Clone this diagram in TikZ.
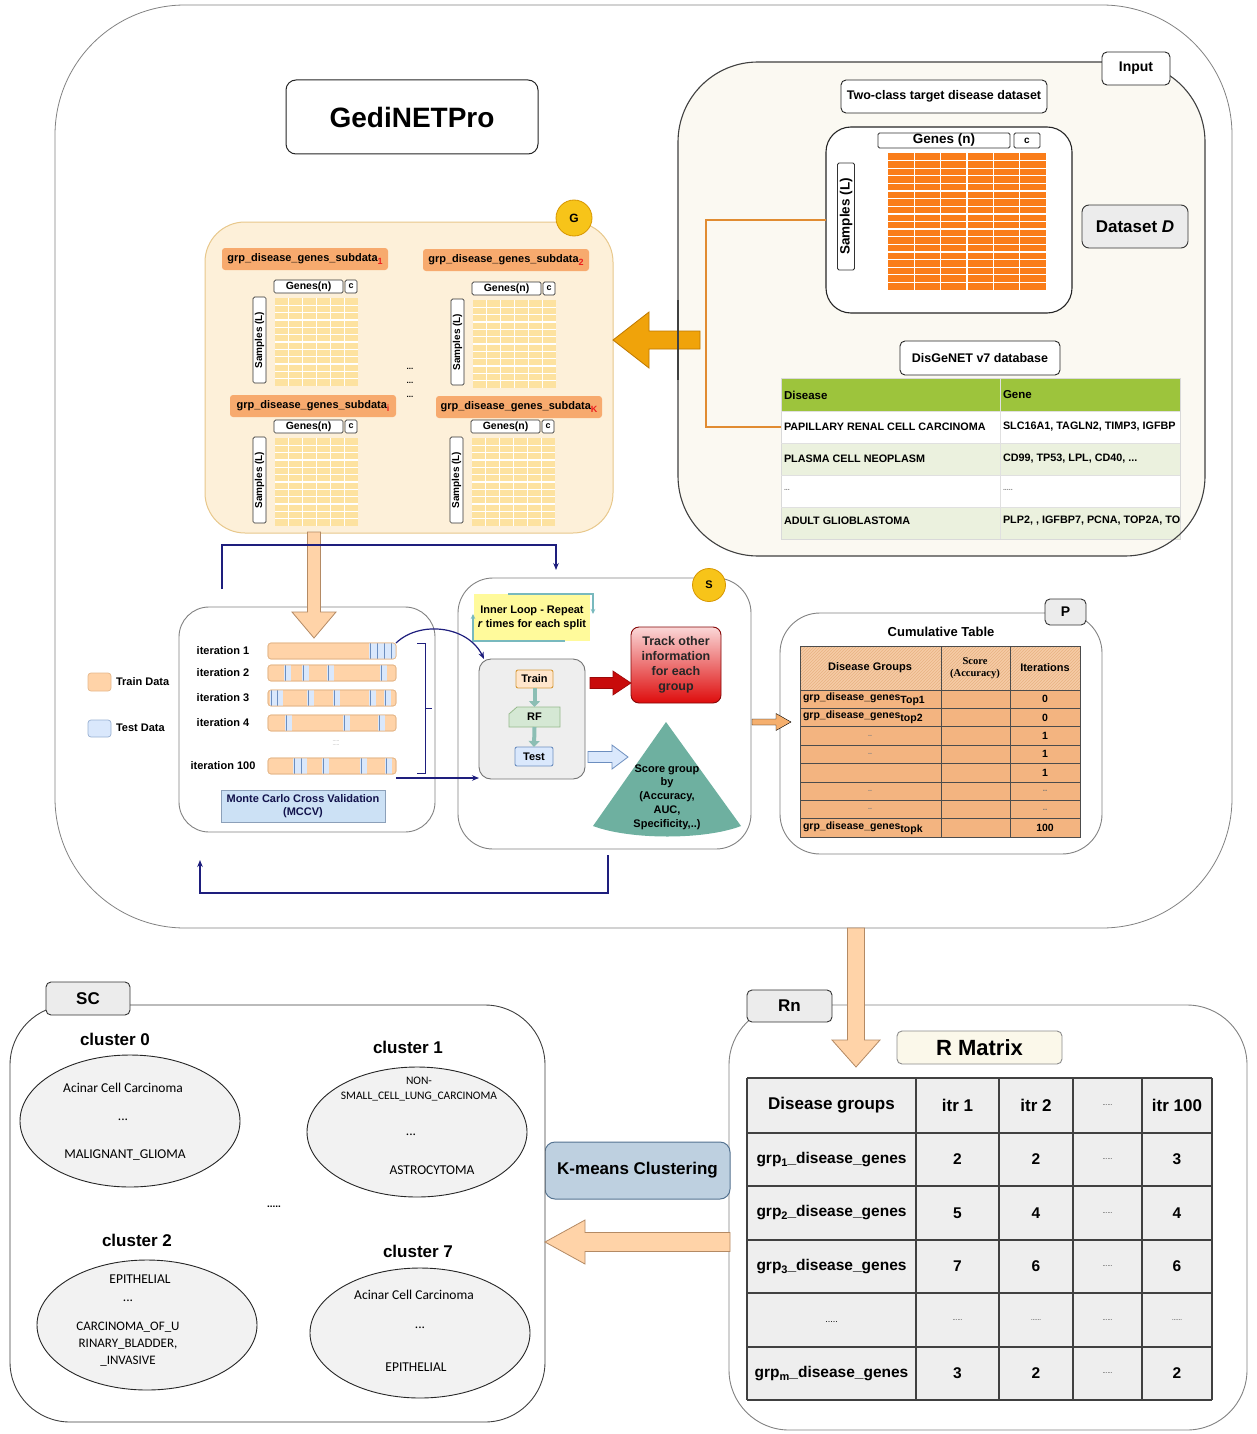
\documentclass[tikz,border=0pt]{standalone}
\usepackage{fontspec}
\setmainfont{Liberation Sans}
\newfontfamily\serifrm{Liberation Serif}
\newfontfamily\calib{Carlito}
\usetikzlibrary{calc,arrows.meta,patterns,shapes.geometric}

\definecolor{linegray}{RGB}{130,130,130}
\definecolor{incream}{RGB}{251,249,242}
\definecolor{dsorange}{RGB}{250,125,25}
\definecolor{gfill}{RGB}{253,240,217}
\definecolor{gline}{RGB}{232,200,140}
\definecolor{subhead}{RGB}{247,170,110}
\definecolor{subred}{RGB}{235,30,30}
\definecolor{cellyel}{RGB}{253,226,160}
\definecolor{goldfill}{RGB}{247,196,25}
\definecolor{goldline}{RGB}{215,150,0}
\definecolor{arrgold}{RGB}{240,163,10}
\definecolor{arrgoldline}{RGB}{190,120,0}
\definecolor{connorange}{RGB}{225,140,50}
\definecolor{dgreen}{RGB}{157,196,60}
\definecolor{lgreen}{RGB}{235,241,222}
\definecolor{peach}{RGB}{255,211,168}
\definecolor{peachline}{RGB}{180,138,100}
\definecolor{trainline}{RGB}{230,185,140}
\definecolor{testblue}{RGB}{218,232,252}
\definecolor{testline}{RGB}{108,142,191}
\definecolor{navy}{RGB}{30,30,125}
\definecolor{mccvblue}{RGB}{204,225,245}
\definecolor{mccvline}{RGB}{140,160,185}
\definecolor{innergray}{RGB}{238,238,238}
\definecolor{innyellow}{RGB}{255,250,155}
\definecolor{loopteal}{RGB}{120,185,190}
\definecolor{rfgreen}{RGB}{213,232,212}
\definecolor{rfline}{RGB}{150,185,140}
\definecolor{stepteal}{RGB}{140,190,180}
\definecolor{trainfill}{RGB}{255,230,204}
\definecolor{trainorange}{RGB}{215,155,60}
\definecolor{trackred}{RGB}{222,12,12}
\definecolor{tracktop}{RGB}{250,215,215}
\definecolor{coneteal}{RGB}{110,176,160}
\definecolor{sparrow}{RGB}{245,175,110}
\definecolor{ptable}{RGB}{243,180,128}
\definecolor{phead}{RGB}{246,204,166}
\definecolor{phatch}{RGB}{232,178,130}
\definecolor{rmatcream}{RGB}{251,248,234}
\definecolor{kmfill}{RGB}{190,208,224}
\definecolor{kmline}{RGB}{85,115,145}
\definecolor{ellfill}{RGB}{242,242,242}
\definecolor{labgray}{RGB}{236,236,236}

\newcommand{\fsz}[2]{\fontsize{#1}{#2}\selectfont}
% box spanning (x1,y1)-(x2,y2): name, style, x1, y1, x2, y2, text
\newcommand{\bx}[7]{\node[#2,minimum width={(#5)-(#3)},minimum height={(#6)-(#4)}] (#1) at ({((#3)+(#5))/2},{((#4)+(#6))/2}) {#7};}
% horizontal block arrow: style, tail, tip, body half width, head half width, signed head length
\newcommand{\fath}[6]{\draw[#1] let \p1=#2, \p2=#3 in
  ({\x1},{\y1-#4}) -- ({\x1},{\y1+#4}) -- ({\x2+#6},{\y1+#4}) -- ({\x2+#6},{\y1+#5}) -- ({\x2},{\y1}) -- ({\x2+#6},{\y1-#5}) -- ({\x2+#6},{\y1-#4}) -- cycle;}
% downward block arrow: style, tail, tip, body half width, head half width, head length
\newcommand{\fatv}[6]{\draw[#1] let \p1=#2, \p2=#3 in
  ({\x1-#4},{\y1}) -- ({\x1+#4},{\y1}) -- ({\x1+#4},{\y2+#6}) -- ({\x1+#5},{\y2+#6}) -- ({\x1},{\y2}) -- ({\x1-#5},{\y2+#6}) -- ({\x1-#4},{\y2+#6}) -- cycle;}
% cell grid: x1, y1, x2, y2, inner column lines, inner row lines, colour, gap
\newcommand{\cellgrid}[8]{%
  \fill[#7] ({#1},{#2}) rectangle ({#3},{#4});
  \foreach \i in {1,...,#5} \draw[white,line width=#8] ({(#1)+((#3)-(#1))*\i/(#5+1)},{#2}) -- ({(#1)+((#3)-(#1))*\i/(#5+1)},{#4});
  \foreach \j in {1,...,#6} \draw[white,line width=#8] ({#1},{(#2)+((#4)-(#2))*\j/(#6+1)}) -- ({#3},{(#2)+((#4)-(#2))*\j/(#6+1)});
}
% one sub-dataset panel: id, label x, label y, grid x, grid y, index
\newcommand{\subpanel}[6]{%
  \bx{#1lab}{fill=subhead,rounded corners=3pt}{#2}{#3}{(#2)+166}{(#3)+22}{\fsz{11}{12}grp\_disease\_genes\_subdata\raisebox{-2.5pt}{\fsz{9}{9}\color{subred}#6}}
  \bx{#1gn}{tbox}{(#4)-1}{(#5)-18}{(#4)+68}{(#5)-5}{\fsz{10.5}{11}Genes(n)}
  \bx{#1c}{tbox}{(#4)+70}{(#5)-18}{(#4)+82}{(#5)-5}{\fsz{9}{10}c}
  \cellgrid{#4}{#5}{(#4)+83}{(#5)+88}{5}{11}{cellyel}{1.2pt}
  \node[tbox,rotate=90,minimum width=86,minimum height=13] (#1sm) at ({(#4)-15.5},{(#5)+42}) {\fsz{10}{10}Samples (L)};
}
% one test stripe inside an MCCV bar: centre x, top y, bottom y
\newcommand{\stripe}[3]{\fill[testblue] ({(#1)-3.5},{#2}) rectangle ({(#1)+3.5},{#3});
  \draw[testline,line width=0.8pt] ({(#1)-2},{#2}) -- ({(#1)-2},{#3});}

\begin{document}
\begin{tikzpicture}[x=1pt,y=-1pt,
  every node/.style={inner sep=0pt,outer sep=0pt,align=center,font=\bfseries},
  tag/.style={draw=black!80,line width=0.9pt,fill=labgray,rounded corners=5pt},
  wbox/.style={draw=black!85,line width=0.9pt,fill=white,rounded corners=5pt},
  tbox/.style={draw=black!80,line width=0.7pt,fill=white,rounded corners=1.5pt},
  badge/.style={circle,draw=goldline,line width=0.8pt,fill=goldfill},
  loopline/.style={navy,line width=1.2pt,-{Stealth[length=7pt,width=5.5pt]}},
  fatpeach/.style={fill=peach,draw=peachline,line width=0.8pt},
  bar/.style={fill=peach,draw=trainline,line width=0.7pt,rounded corners=3pt},
  cell/.style={draw=black!70,line width=0.7pt},
  clus/.style={draw=black!85,line width=0.9pt,fill=ellfill,ellipse},
  clustext/.style={font=\calib\fsz{13.5}{16.5}},
  steparrow/.style={stepteal,line width=4pt,-{Triangle[length=6pt,width=11pt]}}
]
\useasboundingbox (0,0) rectangle (1257,1434);
\fill[white] (0,0) rectangle (1257,1434);

% ================= GediNETPro frame =================
\bx{outer}{draw=linegray,line width=0.8pt,rounded corners=130pt}{55}{5}{1232}{928}{}
\bx{title}{wbox,rounded corners=10pt,line width=1pt}{286}{80}{538}{154}{\fsz{28}{32}GediNETPro}

% ---------------- Input ----------------
\bx{input}{fill=incream,rounded corners=80pt}{678}{62}{1205}{556}{}
\bx{twocl}{wbox}{841}{80}{1047}{113}{\fsz{12.5}{14}Two-class target disease dataset}
\bx{dsbox}{wbox,rounded corners=25pt,line width=1.1pt}{826}{127}{1072}{313}{}
\bx{dsgenes}{tbox,line width=0.9pt}{878}{133}{1010}{148}{\fsz{13.5}{14}Genes (n)}
\bx{dsc}{tbox,line width=0.9pt}{1014}{133}{1040}{148}{\fsz{10}{10}c}
\cellgrid{888}{153}{1046}{290}{5}{17}{dsorange}{1.3pt}
\node[tbox,line width=0.9pt,rotate=90,minimum width=107,minimum height=17] (dssm) at (846,216.5) {\fsz{13.5}{14}Samples (L)};
\bx{dsD}{tag,rounded corners=7pt}{1082}{205}{1188}{248}{\fsz{17}{20}Dataset \textit{D}}
\bx{dgn}{wbox}{900}{341}{1060}{375}{\fsz{12.5}{14}DisGeNET v7 database}

% DisGeNET table
\fill[dgreen] (781,378) rectangle (1180,411);
\fill[white] (781,411) rectangle (1180,443);
\fill[lgreen] (781,443) rectangle (1180,475);
\fill[white] (781,475) rectangle (1180,507);
\fill[lgreen] (781,507) rectangle (1180,539);
\draw[black!15,line width=0.6pt] (781,378) rectangle (1180,539);
\foreach \yy in {411,443,475,507} \draw[black!12,line width=0.6pt] (781,\yy) -- (1180,\yy);
\draw[black!12,line width=0.6pt] (1000,378) -- (1000,539);
\node[anchor=west] (thd) at (784,395) {\fsz{11.5}{12}Disease};
\node[anchor=west] (thg) at (1003,395) {\fsz{11.5}{12}Gene};
\node[anchor=west] (r1d) at (784,427) {\fsz{10.8}{12}PAPILLARY RENAL CELL CARCINOMA};
\node[anchor=west] (r2d) at (784,459) {\fsz{10.8}{12}PLASMA CELL NEOPLASM};
\node[anchor=west] (r3d) at (784,490) {\fsz{7}{8}\color{black!50}...};
\node[anchor=west] (r4d) at (784,521) {\fsz{10.8}{12}ADULT GLIOBLASTOMA};
\begin{scope}
  \clip (1000,411) rectangle (1180,539);
  \node[anchor=west] (r1g) at (1003,427) {\fsz{10.8}{12}SLC16A1, TAGLN2, TIMP3, IGFBP};
  \node[anchor=west] (r2g) at (1003,459) {\fsz{10.8}{12}CD99, TP53, LPL, CD40, ...};
  \node[anchor=west] (r3g) at (1003,490) {\fsz{7}{8}\color{black!50}.....};
  \node[anchor=west] (r4g) at (1003,521) {\fsz{10.8}{12}PLP2, , IGFBP7, PCNA, TOP2A, TOP};
\end{scope}

% dataset and database feed the grouping step
\coordinate (cbend) at (706,220);
\draw[connorange,line width=1.3pt] (dsbox.west) -- (cbend) |- ([xshift=-3pt]r1d.west);

% Input frame outline on top, and its tag
\bx{inputrim}{draw=black!75,line width=1.1pt,rounded corners=80pt}{678}{62}{1205}{556}{}
\bx{inlab}{wbox}{1102}{52}{1170}{85}{\fsz{14}{16}Input}

% ---------------- G : grouped sub-datasets ----------------
\bx{G}{fill=gfill,draw=gline,line width=1pt,rounded corners=40pt}{205}{222}{613}{533}{}
\node[badge,minimum size=36] (gbadge) at (574,218) {\fsz{12}{12}G};
\subpanel{pa}{222}{248}{275}{298}{1}
\subpanel{pb}{423}{249}{473}{300}{2}
\subpanel{pc}{230}{395}{275}{438}{i}
\subpanel{pd}{436}{396}{472}{438}{K}
\node (gd1) at (410,369) {\fsz{8}{8}...};
\node (gd2) at (410,383) {\fsz{8}{8}...};
\node (gd3) at (410,397) {\fsz{8}{8}...};

\coordinate (gtail) at (700,340);
\fath{fill=arrgold,draw=arrgoldline,line width=0.8pt}{(gtail)}{(G.east)}{9pt}{28pt}{36pt}
\draw[black!75,line width=1.1pt] (678,300) -- (678,380);

% ---------------- MCCV ----------------
\bx{mccv}{draw=linegray,line width=0.9pt,fill=white,rounded corners=30pt}{179}{607}{435}{832}{}
\coordinate (gmtop) at (314,532);
\coordinate (gmtip) at (314,638);
\fatv{fatpeach}{(gmtop)}{(gmtip)}{6.5pt}{22pt}{26pt}

\node (it1) at (223,651) {\fsz{11}{12}iteration 1};
\node (it2) at (223,673) {\fsz{11}{12}iteration 2};
\node (it3) at (223,698) {\fsz{11}{12}iteration 3};
\node (it4) at (223,723) {\fsz{11}{12}iteration 4};
\node (it100) at (223,766) {\fsz{11}{12}iteration 100};
\node[font=\fsz{5}{3.5},text=black!45] (itdots) at (336,743) {.....\\.....};

\bx{bar1}{bar}{268}{643}{396}{659}{}
\bx{bar2}{bar}{268}{665}{396}{681}{}
\bx{bar3}{bar}{268}{690}{396}{706}{}
\bx{bar4}{bar}{268}{715}{396}{731}{}
\bx{bar100}{bar}{268}{758}{396}{774}{}
\begin{scope}
  \clip[rounded corners=3pt] (268,643) rectangle (396,659);
  \fill[testblue] (369,643) rectangle (396,659);
  \foreach \c in {370,377,384,391} \draw[testline,line width=0.8pt] (\c,643) -- (\c,659);
\end{scope}
\begin{scope}
  \clip[rounded corners=3pt] (268,665) rectangle (396,681);
  \foreach \c in {287,305,330,383} {\stripe{\c}{665}{681}}
\end{scope}
\begin{scope}
  \clip[rounded corners=3pt] (268,690) rectangle (396,706);
  \foreach \c in {273,279,310,336,372,387} {\stripe{\c}{690}{706}}
\end{scope}
\begin{scope}
  \clip[rounded corners=3pt] (268,715) rectangle (396,731);
  \foreach \c in {288,346,381} {\stripe{\c}{715}{731}}
\end{scope}
\begin{scope}
  \clip[rounded corners=3pt] (268,758) rectangle (396,774);
  \foreach \c in {296,303,325,363,388} {\stripe{\c}{758}{774}}
\end{scope}
\foreach \b in {bar1,bar2,bar3,bar4,bar100} \draw[trainline,line width=0.7pt,rounded corners=3pt] (\b.north west) rectangle (\b.south east);

\draw[navy,line width=1pt] (417,643) -- (425,643) -- (425,773) -- (417,773) (425,708) -- (432,708);
\bx{mccvlab}{fill=mccvblue,draw=mccvline,line width=0.8pt,font=\bfseries\fsz{11}{13},text=navy!60!black}{221}{790}{385}{822}{Monte Carlo Cross Validation\\(MCCV)}

% legend
\bx{lgtrain}{fill=peach,draw=trainline,line width=0.7pt,rounded corners=3pt}{88}{673}{111}{691}{}
\node[anchor=west] (lgtraint) at (116,682) {\fsz{11}{12}Train Data};
\bx{lgtest}{fill=testblue,draw=testline!70,line width=0.7pt,rounded corners=3pt}{88}{720}{111}{737}{}
\node[anchor=west] (lgtestt) at (116,728) {\fsz{11}{12}Test Data};

% ---------------- S : scoring ----------------
\bx{S}{draw=linegray,line width=0.9pt,fill=white,rounded corners=35pt}{458}{578}{751}{849}{}
\node[badge,minimum size=33] (sbadge) at (709,585) {\fsz{11}{11}S};

\bx{inloop}{fill=innyellow,font=\bfseries\fsz{11}{14}}{474}{594}{590}{641}{Inner Loop - Repeat\\\textit{r} times for each split}
\draw[loopteal,line width=1.2pt,-{Stealth[length=5pt,width=4.5pt]}] (508,594) -- (593,594) -- (593,614);
\draw[loopteal,line width=1.2pt,-{Stealth[length=5pt,width=4.5pt]}] (565,641) -- (473,641) -- (473,614);

\bx{inner}{draw=black!55,fill=innergray,rounded corners=12pt,line width=0.9pt}{479}{659}{585}{779}{}
\bx{train}{draw=trainorange,fill=trainfill,rounded corners=2pt,line width=0.9pt}{516}{670}{553}{688}{\fsz{11}{12}Train}
\filldraw[fill=rfgreen,draw=rfline,line width=0.8pt] (517,707) -- (560,707) -- (560,727) -- (509,727) -- (509,714) -- cycle;
\bx{rf}{}{509}{707}{560}{727}{\fsz{11}{12}RF}
\bx{test}{draw=testline,fill=testblue,rounded corners=2pt,line width=0.9pt}{515}{747}{553}{766}{\fsz{11}{12}Test}
\draw[steparrow] (train.south) -- (rf.north);
\draw[steparrow] (rf.south) -- (test.north);

\draw[loopline] (bar1.north east) .. controls (420,620) and (468,626) .. ([xshift=5pt]inner.north west);
\coordinate (sarr) at (396,778);
\draw[loopline] (sarr) -- (sarr -| inner.west);

\bx{track}{draw=trackred!60!black,line width=0.9pt,rounded corners=8pt,top color=tracktop,bottom color=trackred,font=\bfseries\fsz{12.5}{15},text=black!85}{631}{627}{721}{703}{Track other\\information\\for each\\group}
\coordinate (redtail) at (590,683);
\fath{fill=trackred!90!black,draw=trackred!70!black,line width=0.6pt}{(redtail)}{(track.west)}{5.5pt}{12pt}{(-18pt)}
\coordinate (bluetail) at (588,757);
\coordinate (bluetip) at (628,757);
\fath{fill=testblue,draw=testline,line width=0.8pt}{(bluetail)}{(bluetip)}{5.5pt}{12pt}{(-16pt)}

\fill[coneteal] (666,722) -- (741,826) .. controls (705,840) and (630,840) .. (593,826) -- cycle;
\node[font=\bfseries\fsz{11}{13.8}] (cone) at (667,797) {Score group\\by\\(Accuracy,\\AUC,\\Specificity,..)};

% loop-back connectors
\coordinate (ltop) at (222,589);
\coordinate (lend) at (556,570);
\draw[loopline] (ltop) -- ++(0,-44) -| (lend);
\coordinate (lbs) at (608,855);
\coordinate (lbe) at (200,860);
\draw[loopline] (lbs) -- ++(0,38) -| (lbe);

% ---------------- P : cumulative table ----------------
\bx{P}{draw=linegray,line width=0.9pt,fill=white,rounded corners=40pt}{780}{613}{1102}{854}{}
\bx{plab}{tag}{1045}{599}{1086}{625}{\fsz{14}{16}P}
\coordinate (sptail) at (752,722);
\coordinate (sptip) at (791,722);
\fath{fill=sparrow}{(sptail)}{(sptip)}{3pt}{8.5pt}{(-15pt)}
\node (ctitle) at (941,632) {\fsz{13}{14}Cumulative Table};

\fill[phead] (800,646) rectangle (1080,690);
\fill[pattern=north east lines,pattern color=phatch] (800,646) rectangle (1080,690);
\foreach \k in {0,...,7} \filldraw[fill=ptable,cell] (800,{690+18.375*\k}) rectangle (1080,{690+18.375*(\k+1)});
\draw[cell] (800,646) rectangle (1080,837);
\draw[cell] (941,646) -- (941,837) (1010,646) -- (1010,837);
\node (ph1) at (870,668) {\fsz{11}{12}Disease Groups};
\node[font=\serifrm\bfseries\fsz{10.5}{12}] (ph2) at (975,668) {Score\\(Accuracy)};
\node (ph3) at (1045,668) {\fsz{11}{12}Iterations};
\node[anchor=west] (pr1) at (803,699.2) {\fsz{10.5}{11}grp\_disease\_genes\raisebox{-3pt}{Top1}};
\node[anchor=west] (pr2) at (803,717.6) {\fsz{10.5}{11}grp\_disease\_genes\raisebox{-3pt}{top2}};
\node (pr3) at (870,735.9) {\fsz{7}{8}\color{black!50}..};
\node (pr4) at (870,754.3) {\fsz{7}{8}\color{black!50}..};
\node (pr6) at (870,791.1) {\fsz{7}{8}\color{black!50}..};
\node (pr7) at (870,809.4) {\fsz{7}{8}\color{black!50}..};
\node[anchor=west] (pr8) at (803,827.8) {\fsz{10.5}{11}grp\_disease\_genes\raisebox{-3pt}{topk}};
\node (pi1) at (1045,699.2) {\fsz{10.5}{11}0};
\node (pi2) at (1045,717.6) {\fsz{10.5}{11}0};
\node (pi3) at (1045,735.9) {\fsz{10.5}{11}1};
\node (pi4) at (1045,754.3) {\fsz{10.5}{11}1};
\node (pi5) at (1045,772.7) {\fsz{10.5}{11}1};
\node (pi6) at (1045,791.1) {\fsz{8}{8}\color{black!55}..};
\node (pi7) at (1045,809.4) {\fsz{8}{8}\color{black!55}..};
\node (pi8) at (1045,827.8) {\fsz{10.5}{11}100};

% ================= Rn : R matrix =================
\bx{Rn}{draw=linegray,line width=0.9pt,fill=white,rounded corners=60pt}{729}{1005}{1247}{1430}{}
\bx{rnlab}{tag}{747}{990}{832}{1022}{\fsz{17}{18}Rn}
\coordinate (rtop) at (856,928);
\coordinate (rtip) at (856,1067);
\fatv{fatpeach}{(rtop)}{(rtip)}{8.5pt}{24pt}{27pt}
\bx{rmat}{fill=rmatcream,draw=black!45,line width=0.9pt,rounded corners=5pt}{897}{1031}{1062}{1064}{\fsz{22}{24}R Matrix}

\fill[innergray] (747,1078) rectangle (1212,1400);
\foreach \xx in {747,916,999,1073,1142,1212} \draw[black!75,line width=1.3pt] (\xx,1078) -- (\xx,1400);
\foreach \yy in {1078,1133,1186,1240,1293,1347,1400} \draw[black!75,line width=1.3pt] (747,\yy) -- (1212,\yy);
\node (mh0) at (831.5,1105.5) {\fsz{17}{18}Disease groups};
\node (mh1) at (957.5,1105.5) {\fsz{17}{18}itr 1};
\node (mh2) at (1036,1105.5) {\fsz{17}{18}itr 2};
\node (mh3) at (1107.5,1105.5) {\fsz{6}{6}\mdseries......};
\node (mh4) at (1177,1105.5) {\fsz{17}{18}itr 100};
\node (m1a) at (831.5,1159.5) {\fsz{15.5}{17}grp\raisebox{-3pt}{\fsz{11}{11}1}\_disease\_genes};
\node (m2a) at (831.5,1213) {\fsz{15.5}{17}grp\raisebox{-3pt}{\fsz{11}{11}2}\_disease\_genes};
\node (m3a) at (831.5,1266.5) {\fsz{15.5}{17}grp\raisebox{-3pt}{\fsz{11}{11}3}\_disease\_genes};
\node (m4a) at (831.5,1322) {\fsz{9}{9}\mdseries .....};
\node (m5a) at (831.5,1373.5) {\fsz{15.5}{17}grp\raisebox{-3pt}{\fsz{11}{11}m}\_disease\_genes};
\foreach \r/\yy/\va/\vb/\vc in {1/1159.5/2/2/3, 2/1213/5/4/4, 3/1266.5/7/6/6, 5/1373.5/3/2/2} {
  \node (m\r b) at (957.5,\yy) {\fsz{15.5}{17}\va};
  \node (m\r c) at (1036,\yy) {\fsz{15.5}{17}\vb};
  \node (m\r d) at (1107.5,\yy) {\fsz{6}{6}\mdseries......};
  \node (m\r e) at (1177,\yy) {\fsz{15.5}{17}\vc};
}
\node (m4b) at (957.5,1320) {\fsz{6}{6}\mdseries......};
\node (m4c) at (1036,1320) {\fsz{6}{6}\mdseries......};
\node (m4d) at (1107.5,1320) {\fsz{6}{6}\mdseries......};
\node (m4e) at (1177,1320) {\fsz{6}{6}\mdseries......};

% ================= K-means =================
\bx{kmeans}{fill=kmfill,draw=kmline,line width=1pt,rounded corners=10pt}{545}{1142}{730}{1199}{\fsz{17}{18}K-means Clustering}

% ================= SC : clusters =================
\bx{SC}{draw=black!75,line width=0.9pt,fill=white,rounded corners=60pt}{10}{1005}{545}{1422}{}
\bx{sclab}{tag}{46}{982}{130}{1015}{\fsz{17}{18}SC}
\coordinate (kmtail) at (730,1242);
\fath{fatpeach}{(kmtail)}{(SC.east)}{9.5pt}{22pt}{40pt}

\node (c0) at (115,1039) {\fsz{17}{18}cluster 0};
\node[clus,minimum width=220,minimum height=132] (e0) at (130,1121) {};
\node[clustext] (e0a) at (123,1088) {Acinar Cell Carcinoma};
\node[clustext] (e0b) at (123,1120) {...};
\node[clustext] (e0c) at (125,1155) {MALIGNANT\_GLIOMA};

\node (c1) at (408,1047) {\fsz{17}{18}cluster 1};
\node[clus,minimum width=220,minimum height=130] (e1) at (417,1132) {};
\node[clustext,font=\calib\fsz{11.5}{15}] (e1a) at (419,1089) {NON-\\SMALL\_CELL\_LUNG\_CARCINOMA};
\node[clustext] (e1b) at (411,1135) {...};
\node[clustext] (e1c) at (432,1170) {ASTROCYTOMA};

\node (cdots) at (274,1207) {\fsz{10}{10}.....};

\node (c2) at (137,1240) {\fsz{17}{18}cluster 2};
\node[clus,minimum width=220,minimum height=130] (e2) at (147,1325) {};
\node[clustext] (e2a) at (140,1279) {EPITHELIAL};
\node[clustext] (e2b) at (128,1301) {...};
\node[clustext,font=\calib\fsz{13}{17}] (e2c) at (128,1344) {CARCINOMA\_OF\_U\\RINARY\_BLADDER,\\\_INVASIVE};

\node (c7) at (418,1251) {\fsz{17}{18}cluster 7};
\node[clus,minimum width=220,minimum height=130] (e7) at (420,1333) {};
\node[clustext] (e7a) at (414,1295) {Acinar Cell Carcinoma};
\node[clustext] (e7b) at (420,1328) {...};
\node[clustext] (e7c) at (416,1367) {EPITHELIAL};

\end{tikzpicture}
\end{document}
